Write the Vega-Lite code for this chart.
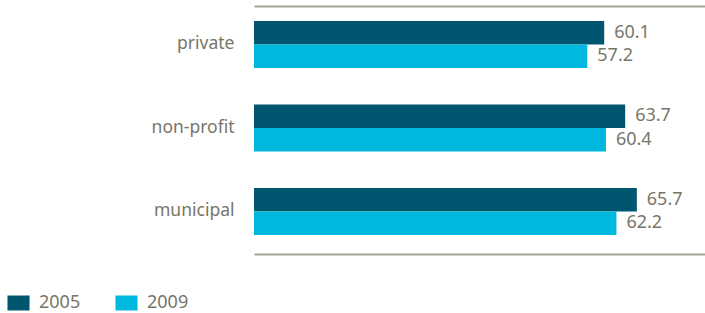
{
  "$schema": "https://vega.github.io/schema/vega-lite/v6.json",
  "width": 451,
  "height": 248,
  "autosize": {"type": "none"},
  "padding": {"left": 254, "top": 6, "right": 0, "bottom": 59},
  "config": {"view": {"stroke": null}, "font": "Noto Sans"},
  "data": {
    "values": [
      {"sector": "private", "year": "2005", "value": 60.1},
      {"sector": "private", "year": "2009", "value": 57.2},
      {"sector": "non-profit", "year": "2005", "value": 63.7},
      {"sector": "non-profit", "year": "2009", "value": 60.4},
      {"sector": "municipal", "year": "2005", "value": 65.7},
      {"sector": "municipal", "year": "2009", "value": 62.2}
    ]
  },
  "encoding": {
    "y": {
      "field": "sector",
      "type": "nominal",
      "sort": ["private", "non-profit", "municipal"],
      "scale": {"paddingInner": 0.437, "paddingOuter": 0.2036, "align": 0.44},
      "axis": {
        "title": null,
        "domain": false,
        "ticks": false,
        "labelPadding": 20,
        "labelFontSize": 17.5,
        "labelColor": "#767669",
        "labelFont": "Noto Sans"
      }
    },
    "yOffset": {"field": "year", "type": "nominal", "sort": ["2005", "2009"]}
  },
  "layer": [
    {
      "mark": {"type": "bar"},
      "encoding": {
        "x": {
          "field": "value",
          "type": "quantitative",
          "scale": {"domain": [0, 77.4], "nice": false, "zero": true},
          "axis": {
            "orient": "bottom",
            "title": null,
            "labels": false,
            "ticks": false,
            "grid": false,
            "domain": true,
            "domainColor": "#a3a398",
            "domainWidth": 2
          }
        },
        "color": {
          "field": "year",
          "type": "nominal",
          "scale": {"domain": ["2005", "2009"], "range": ["#00566f", "#00b8de"]},
          "legend": {
            "title": null,
            "orient": "none",
            "direction": "horizontal",
            "legendX": -244.5,
            "legendY": 288,
            "symbolType": "M-1.47,-1H1.47V1H-1.47Z",
            "symbolSize": 225,
            "symbolStrokeWidth": 0,
            "symbolOpacity": 1,
            "labelOffset": 11.5,
            "labelFontSize": 18,
            "labelColor": "#767669",
            "labelFont": "Noto Sans",
            "columnPadding": 34
          }
        }
      }
    },
    {
      "mark": {"type": "text", "align": "left", "baseline": "middle", "dx": 10, "fontSize": 18, "color": "#767669", "font": "Noto Sans"},
      "encoding": {
        "x": {
          "field": "value",
          "type": "quantitative",
          "axis": {
            "orient": "top",
            "title": null,
            "labels": false,
            "ticks": false,
            "grid": false,
            "domain": true,
            "domainColor": "#a3a398",
            "domainWidth": 2
          }
        },
        "text": {"field": "value", "type": "quantitative", "format": ".1f"}
      }
    }
  ],
  "resolve": {"axis": {"x": "independent"}}
}
